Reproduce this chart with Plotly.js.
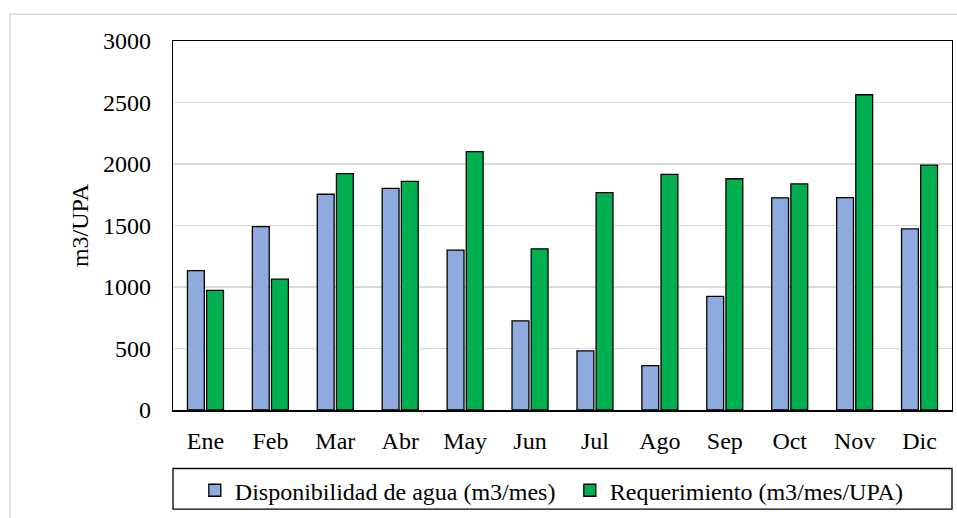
<!DOCTYPE html>
<html>
<head>
<meta charset="utf-8">
<script src="https://cdn.plot.ly/plotly-3.0.1.min.js"></script>
<style>html,body{margin:0;padding:0;background:#fff;}#chart{width:957px;height:518px;}</style>
</head>
<body>
<div id="chart"></div>
<script>
const months = ["Ene","Feb","Mar","Abr","May","Jun","Jul","Ago","Sep","Oct","Nov","Dic"];
const disponibilidad = [1133, 1491, 1754, 1802, 1300, 725, 480, 360, 924, 1725, 1727, 1472];
const requerimiento = [972, 1064, 1921, 1859, 2101, 1310, 1768, 1915, 1880, 1838, 2563, 1991];
const seriesNames = ["Disponibilidad de agua (m3/mes)", "Requerimiento (m3/mes/UPA)"];
const yTicks = [0, 500, 1000, 1500, 2000, 2500, 3000];

const font = {family: "Liberation Serif, Times New Roman, serif", size: 24, color: "#000"};

const traces = [
  {type: "bar", x: months, y: disponibilidad, name: seriesNames[0],
   marker: {color: "#8faadc", line: {color: "#000", width: 1.3}}},
  {type: "bar", x: months, y: requerimiento, name: seriesNames[1],
   marker: {color: "#00b050", line: {color: "#000", width: 1.3}}}
];

const layout = {
  width: 957, height: 518,
  margin: {l: 173, r: 5, t: 41, b: 105},
  paper_bgcolor: "#fff", plot_bgcolor: "#fff",
  font: font,
  barmode: "group", bargap: 0.41, bargroupgap: 0.12,
  showlegend: true,
  legend: {orientation: "h", x: 0.028, xanchor: "left", y: -0.2186, yanchor: "middle",
           font: font, bgcolor: "rgba(0,0,0,0)", traceorder: "normal", entrywidth: 330},
  xaxis: {type: "category", showline: true, linecolor: "#000", linewidth: 1.5, mirror: true,
          ticks: "outside", ticklen: 9, tickcolor: "rgba(0,0,0,0)", showgrid: false, tickfont: font},
  yaxis: {range: [0, 3000], tickvals: yTicks, showline: true, linecolor: "#000", linewidth: 1.3, mirror: true,
          gridcolor: "#d9d9d9", gridwidth: 1.3, zeroline: false,
          ticks: "outside", ticklen: 16, tickcolor: "rgba(0,0,0,0)", tickfont: font,
          title: {text: "m3/UPA", font: font, standoff: 7}},
  shapes: [
    {type: "rect", xref: "paper", yref: "paper", x0: -0.2092, x1: 1.5, y0: -0.6, y1: 1.0726,
     line: {color: "#d9d9d9", width: 1.5}, fillcolor: "rgba(0,0,0,0)", layer: "below"},
    {type: "rect", xref: "paper", yref: "paper", x0: 0, x1: 1.0, y0: -0.2688, y1: -0.1586,
     line: {color: "#000", width: 1.3}, fillcolor: "rgba(0,0,0,0)"}
  ]
};

Plotly.newPlot("chart", traces, layout, {displayModeBar: false, staticPlot: true});
</script>
</body>
</html>
